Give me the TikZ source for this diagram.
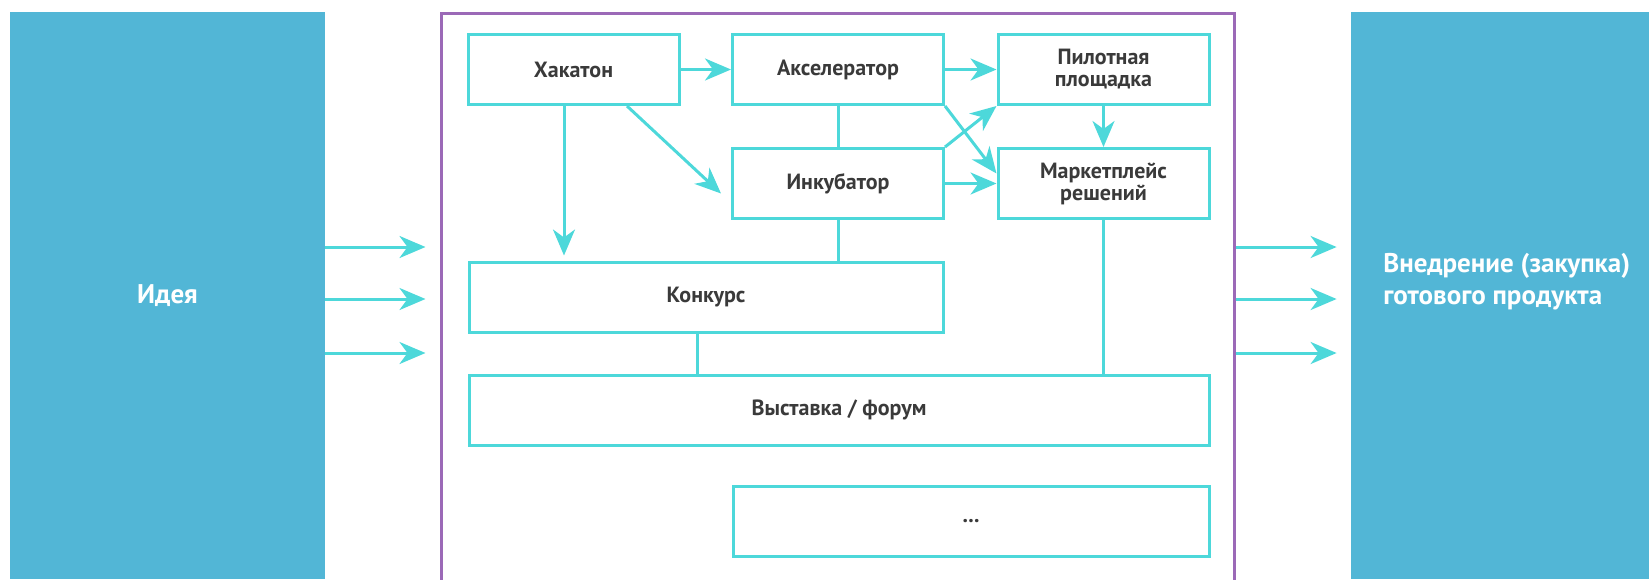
\documentclass[tikz,border=0pt]{standalone}
\usepackage{fontspec}
\setmainfont{PT Sans}
\usetikzlibrary{arrows.meta}

\definecolor{panelblue}{HTML}{52B6D6}
\definecolor{boxcyan}{HTML}{4DD8DA}
\definecolor{framepurple}{HTML}{9B69B7}
\definecolor{textgray}{HTML}{3A3A3A}

\begin{document}
\begin{tikzpicture}[x=0.5pt,y=-0.5pt,
  box/.style={draw=boxcyan,line width=1.5pt,text=textgray,align=center,inner sep=0pt,
    font=\bfseries\fontsize{11}{11}\selectfont,minimum width=105.5pt,minimum height=35pt},
  panel/.style={fill=panelblue,text=white,inner sep=0pt,minimum height=283.5pt,
    font=\bfseries\fontsize{13.5}{16}\selectfont},
  flow/.style={draw=boxcyan,line width=1.5pt,-{Stealth[length=13pt,width=11pt,inset=4pt]}},
  link/.style={draw=boxcyan,line width=1.5pt}]

\useasboundingbox (0,0) rectangle (1649,579);

\node[panel,minimum width=157.5pt] (idea) at (167.5,295.5) {Идея};
\node[panel,minimum width=149pt] (goal) at (1500,295.5) {};
\node[anchor=west,align=left,text=white,inner sep=0pt,font=\bfseries\fontsize{13.5}{16}\selectfont] (goaltext) at (1383,282) {Внедрение (закупка)\\готового продукта};

\node[draw=framepurple,line width=1.5pt,minimum width=396.5pt,minimum height=303.5pt] (frame) at (837.5,316.5) {};

\node[box] (hack) at (573.5,69.5) {Хакатон};
\node[box] (acc) at (838,69.5) {Акселератор};
\node[box] (pilot) at (1103.5,69.5) {Пилотная\\площадка};
\node[box] (inc) at (838,183.5) {Инкубатор};
\node[box] (mkt) at (1103.5,183.5) {Маркетплейс\\решений};
\node[box,minimum width=237pt] (contest) at (706,297) {Конкурс};
\node[box,minimum width=370pt] (expo) at (839,410) {Выставка / форум};
\node[box,minimum width=238pt] (more) at (971,521) {...};

\foreach \y in {247,299,353} {
  \draw[flow,shorten >=7pt] (idea.east |- 0,\y) -- (frame.west |- 0,\y);
  \draw[flow,shorten >=7pt] (frame.east |- 0,\y) -- (goal.west |- 0,\y);
}

\draw[flow] (hack) -- (acc);
\draw[flow] (acc) -- (pilot);
\draw[flow] (inc) -- (mkt);
\draw[flow] (pilot) -- (mkt);
\draw[flow] (acc.south east) -- ([yshift=5pt]mkt.west);
\draw[flow] (inc.north east) -- (pilot.south west);
\draw[flow] ([xshift=26.75pt]hack.south) -- ([xshift=-5pt,yshift=-5pt]inc.west);
\draw[flow,shorten >=2.5pt] ([xshift=-4.75pt]hack.south) -- ([xshift=-4.75pt]hack.south |- contest.north);

\draw[link] (acc) -- (inc);
\draw[link] (inc.south) -- (inc.south |- contest.north);
\draw[link] ([xshift=-4.5pt]contest.south) -- ([xshift=-4.5pt]contest.south |- expo.north);
\draw[link] (mkt.south) -- (mkt.south |- expo.north);

\end{tikzpicture}
\end{document}
